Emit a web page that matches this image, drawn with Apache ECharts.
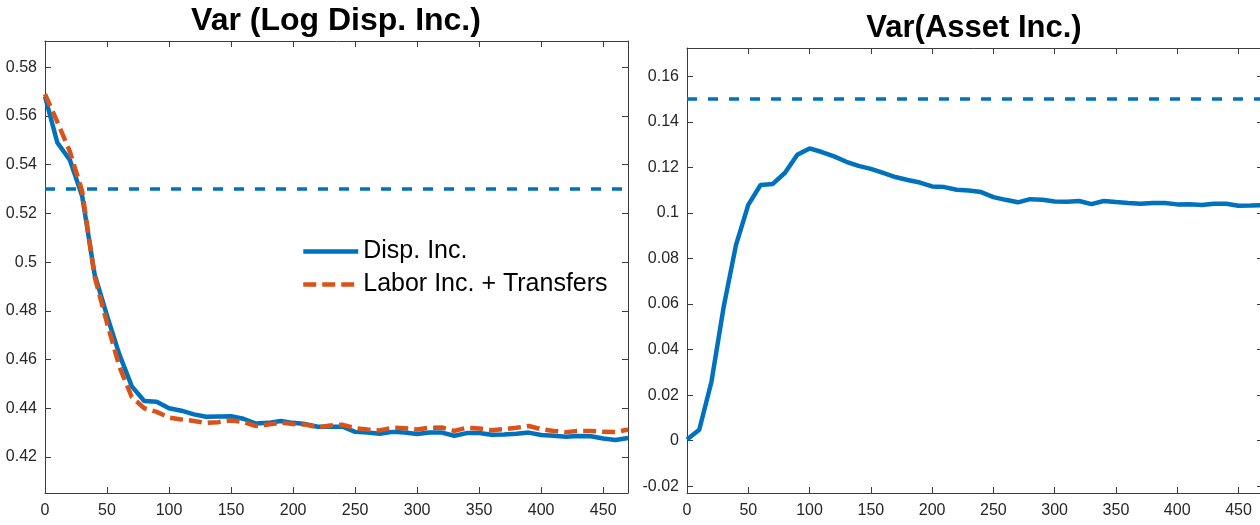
<!DOCTYPE html>
<html><head><meta charset="utf-8">
<script src="https://cdn.jsdelivr.net/npm/echarts@6/dist/echarts.min.js"></script>
<style>html,body{margin:0;padding:0;background:#fff}#c{width:1260px;height:525px}</style>
</head><body><div id="c"></div>
<script>
const periods = [0,10,20,30,40,50,60,70,80,90,100,110,120,130,140,150,160,170,180,190,200,210,220,230,240,250,260,270,280,290,300,310,320,330,340,350,360,370,380,390,400,410,420,430,440,450,460,470];
const dispInc = [0.568,0.549,0.542,0.527,0.495,0.478,0.462,0.449,0.443,0.4427,0.4400,0.4390,0.4375,0.4365,0.4366,0.4367,0.4357,0.4337,0.4340,0.4348,0.4340,0.4335,0.4324,0.4324,0.4324,0.4303,0.4300,0.4295,0.4303,0.4300,0.4294,0.4300,0.4300,0.4287,0.4298,0.4298,0.4291,0.4292,0.4295,0.4300,0.4290,0.4287,0.4283,0.4286,0.4285,0.4276,0.4270,0.4278];
const laborTransfers = [0.569,0.5575,0.5455,0.529,0.494,0.475,0.457,0.4446,0.4400,0.4385,0.4362,0.4354,0.4348,0.4340,0.4343,0.4350,0.4344,0.4327,0.4333,0.4341,0.4335,0.4333,0.4322,0.4329,0.4332,0.4318,0.4313,0.4309,0.4320,0.4318,0.4313,0.4320,0.4321,0.4307,0.4320,0.4317,0.4310,0.4314,0.4320,0.4327,0.4314,0.4307,0.4302,0.4307,0.4307,0.4303,0.4302,0.4313];
const assetInc = [0.0005,0.0048,0.026,0.059,0.086,0.1036,0.1123,0.1128,0.1177,0.1256,0.1284,0.1268,0.1249,0.1225,0.1207,0.1194,0.1176,0.1158,0.1145,0.1134,0.1117,0.1114,0.1102,0.1099,0.1092,0.1070,0.1058,0.1047,0.1061,0.1058,0.1051,0.1050,0.1053,0.1039,0.1053,0.1048,0.1044,0.1041,0.1044,0.1044,0.1038,0.1039,0.1035,0.1041,0.1041,0.1032,0.1033,0.1035];
const dispTarget = 0.532;
const assetTarget = 0.15;
const xTicks = [0,50,100,150,200,250,300,350,400,450];
const leftYTicks = [0.42,0.44,0.46,0.48,0.5,0.52,0.54,0.56,0.58];
const rightYTicks = [-0.02,0,0.02,0.04,0.06,0.08,0.1,0.12,0.14,0.16];
const titles = ['Var (Log Disp. Inc.)','Var(Asset Inc.)'];
const legendNames = ['Disp. Inc.','Labor Inc. + Transfers'];

const BLUE = '#0072BD', ORANGE = '#D95319';
const axisColor = '#3c3c3c', labelColor = '#262626';
const FONT = '"Liberation Sans", Arial, Helvetica, sans-serif';

function pair(xs, ys){ return xs.map((x,i)=>[x, ys[i]]); }
function fmt(v){ return String(+(+v).toFixed(4)); }

function xAx(gridIndex, pos){
  return {type:'value', gridIndex, position:pos, min:0, max:470,
    axisLine:{show:true,onZero:false,lineStyle:{color:axisColor,width:1}},
    axisTick:{show:true,inside:true,length:6,customValues:xTicks,lineStyle:{color:axisColor,width:1}},
    axisLabel:{show:pos==='bottom',customValues:xTicks,color:labelColor,fontSize:16,fontFamily:FONT,margin:10,formatter:fmt},
    splitLine:{show:false}};
}
function yAx(gridIndex, pos, mn, mx, ticks){
  return {type:'value', gridIndex, position:pos, min:mn, max:mx,
    axisLine:{show:true,onZero:false,lineStyle:{color:axisColor,width:1}},
    axisTick:{show:true,inside:true,length:6,customValues:ticks,lineStyle:{color:axisColor,width:1}},
    axisLabel:{show:pos==='left',customValues:ticks,color:labelColor,fontSize:16,fontFamily:FONT,margin:8,formatter:fmt},
    splitLine:{show:false}};
}
function refLine(v){
  return {silent:true, symbol:['none','none'], label:{show:false}, animation:false,
    lineStyle:{color:BLUE,width:3.5,type:[10,11]}, emphasis:{disabled:true}, data:[{yAxis:v}]};
}

const chart = echarts.init(document.getElementById('c'), null, {renderer:'canvas'});
chart.setOption({
  animation:false,
  backgroundColor:'#fff',
  grid:[
    {left:45, top:41, width:583, height:452, outerBoundsMode:'none', containLabel:false},
    {left:687, top:48, width:576, height:445, outerBoundsMode:'none', containLabel:false}
  ],
  xAxis:[xAx(0,'bottom'), xAx(0,'top'), xAx(1,'bottom'), xAx(1,'top')],
  yAxis:[yAx(0,'left',0.4052,0.5908,leftYTicks), yAx(0,'right',0.4052,0.5908,leftYTicks),
         yAx(1,'left',-0.023,0.1725,rightYTicks), yAx(1,'right',-0.023,0.1725,rightYTicks)],
  legend:{data:legendNames, orient:'vertical', left:301, top:239, padding:0, itemWidth:55, itemHeight:14, itemGap:8,
    textStyle:{fontSize:25, fontFamily:FONT, color:'#000', lineHeight:25},
    lineStyle:{width:4.5}, itemStyle:{opacity:0}, selectedMode:false},
  graphic:[
    {type:'text', x:336, y:21, silent:true, style:{text:titles[0], font:'bold 32px '+FONT, fill:'#000', textAlign:'center', textVerticalAlign:'middle'}},
    {type:'text', x:974, y:28, silent:true, style:{text:titles[1], font:'bold 31px '+FONT, fill:'#000', textAlign:'center', textVerticalAlign:'middle'}}
  ],
  series:[
    {type:'line', name:legendNames[0], xAxisIndex:0, yAxisIndex:0, data:pair(periods,dispInc), symbol:'none', showSymbol:false,
      lineStyle:{color:BLUE,width:4.5}, itemStyle:{color:BLUE}, markLine:refLine(dispTarget), z:2},
    {type:'line', name:legendNames[1], xAxisIndex:0, yAxisIndex:0, data:pair(periods,laborTransfers), symbol:'none', showSymbol:false,
      lineStyle:{color:ORANGE,width:4.5,type:[13,6]}, itemStyle:{color:ORANGE}, z:3},
    {type:'line', name:'Asset Inc.', xAxisIndex:2, yAxisIndex:2, data:pair(periods,assetInc), symbol:'none', showSymbol:false,
      lineStyle:{color:BLUE,width:4.5}, itemStyle:{color:BLUE}, markLine:refLine(assetTarget), z:2}
  ]
});
</script></body></html>
